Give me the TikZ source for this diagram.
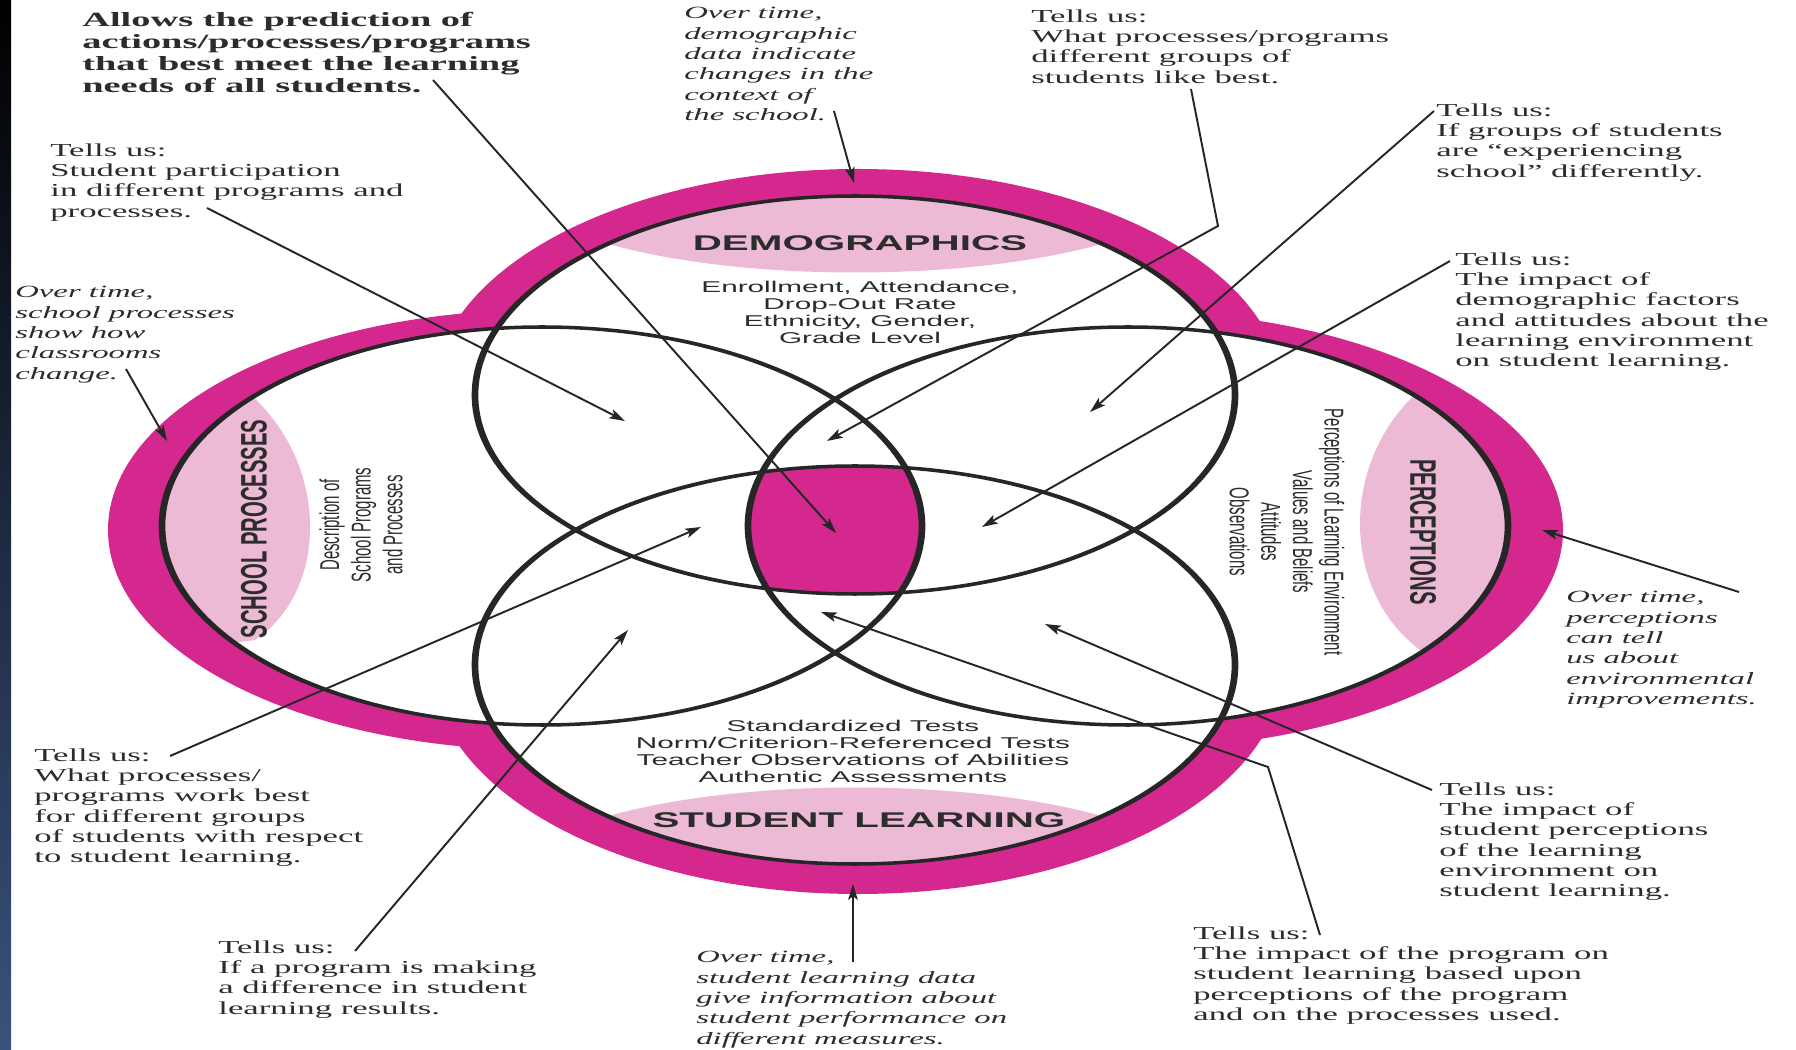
\documentclass[tikz,border=0pt]{standalone}
\usepackage{fontspec}
\usetikzlibrary{arrows.meta}
\newfontfamily\notefont{Liberation Serif}[FakeStretch=1.9]
\newfontfamily\infofont{Liberation Sans}[FakeStretch=1.9]
\newfontfamily\narrowfont{Liberation Sans}[FakeStretch=0.55]

\begin{document}
\begin{tikzpicture}[x=0.02cm, y=-0.02cm,
    tell/.style={anchor=north west, inner sep=0pt, align=left, text=my-ink,
      font=\notefont\fontsize{10.4}{11.6}\selectfont},
    overtime/.style={tell, font=\notefont\itshape\fontsize{9.8}{11.6}\selectfont},
    heading/.style={tell, font=\notefont\bfseries\fontsize{11.5}{12.6}\selectfont},
    info/.style={anchor=north, inner sep=0pt, align=center, text=my-ink,
      font=\infofont\fontsize{8.9}{9.6}\selectfont},
    title/.style={inner sep=0pt, text=my-ink, font=\infofont\bfseries\fontsize{12.1}{14}\selectfont},
    sidetitle/.style={inner sep=0pt, text=my-ink, font=\narrowfont\bfseries\fontsize{21}{24}\selectfont},
    sideinfo/.style={inner sep=0pt, align=center, text=my-ink, font=\narrowfont\fontsize{15.5}{18}\selectfont},
    ring/.style={line width=2pt, draw=my-line},
    pointer/.style={-{Stealth[length=9pt,width=5.5pt,inset=2pt]}, line width=1.1pt, draw=my-line},
    link/.style={line width=1.1pt, draw=my-line}]
    \definecolor{my-magenta}{RGB}{212,40,142}
    \definecolor{my-pink}{RGB}{237,186,214}
    \definecolor{my-line}{RGB}{38,38,38}
    \definecolor{my-ink}{RGB}{44,44,44}
    \definecolor{my-navy}{RGB}{58,82,125}
    \def\rx{380}
    \def\ry{199}
    \useasboundingbox (0,0) rectangle (1796,1050);
    \fill[white] (0,0) rectangle (1796,1050);
    \shade[top color=black, bottom color=my-navy] (0,0) rectangle (11,1050);
    \coordinate (demo)   at (855,395);
    \coordinate (learn)  at (855,665);
    \coordinate (school) at (542,526);
    \coordinate (percep) at (1128,526);
    % outer band and white lobes
    \foreach \cx/\cy/\ox/\oy in {858/395/425/226, 858/665/426/229, 540/530/432/220, 1130/530/433/219}
      \fill[my-magenta] (\cx,\cy) ellipse [x radius=\ox, y radius=\oy];
    \foreach \c in {demo,learn,school,percep}
      \fill[white] (\c) ellipse [x radius=\rx, y radius=\ry];
    \begin{scope}
      \clip (demo) ellipse [x radius=\rx, y radius=\ry];
      \fill[my-pink] (560,150) -- (580,235) .. controls (720,285) and (990,285) .. (1130,235) -- (1150,150) -- cycle;
    \end{scope}
    \begin{scope}
      \clip (learn) ellipse [x radius=\rx, y radius=\ry];
      \fill[my-pink] (560,900) -- (580,825) .. controls (720,775) and (990,775) .. (1130,825) -- (1150,900) -- cycle;
    \end{scope}
    \begin{scope}
      \clip (school) ellipse [x radius=\rx, y radius=\ry];
      \fill[my-pink] (100,380) -- (245,390) .. controls (330,460) and (330,590) .. (255,640) -- (100,660) -- cycle;
    \end{scope}
    \begin{scope}
      \clip (percep) ellipse [x radius=\rx, y radius=\ry];
      \fill[my-pink] (1600,380) -- (1420,390) .. controls (1340,460) and (1340,590) .. (1420,650) -- (1600,660) -- cycle;
    \end{scope}
    \begin{scope}
      \clip (demo) ellipse [x radius=\rx, y radius=\ry];
      \clip (learn) ellipse [x radius=\rx, y radius=\ry];
      \clip (school) ellipse [x radius=\rx, y radius=\ry];
      \fill[my-magenta] (percep) ellipse [x radius=\rx, y radius=\ry];
    \end{scope}
    \begin{scope}[transform canvas={xscale=1.9}]
      \foreach \cx/\cy in {450/395, 450/665, 285.26/526, 593.68/526}
        \draw[ring] (\cx,\cy) ellipse [x radius=200, y radius=\ry];
    \end{scope}
    % inner texts
    \node[title] (demoTitle) at (860,243) {DEMOGRAPHICS};
    \node[info] (demoInfo) at (860,281) {Enrollment, Attendance,\\Drop-Out Rate\\Ethnicity, Gender,\\Grade Level};
    \node[title] (learnTitle) at (859,820) {STUDENT LEARNING};
    \node[info] (learnInfo) at (853,720) {Standardized Tests\\Norm/Criterion-Referenced Tests\\Teacher Observations of Abilities\\Authentic Assessments};
    \node[sidetitle, rotate=90] (schoolTitle) at (254,529) {SCHOOL PROCESSES};
    \node[sideinfo, rotate=90] (schoolInfo) at (361,525) {Description of\\School Programs\\and Processes};
    \node[sidetitle, rotate=-90] (percepTitle) at (1423,532) {PERCEPTIONS};
    \node[sideinfo, rotate=-90] (percepInfo) at (1287,532) {Perceptions of Learning Environment\\Values and Beliefs\\Attitudes\\Observations};
    % notes
    \node[heading] (predict) at (82,12) {Allows the prediction of\\actions/processes/programs\\that best meet the learning\\needs of all students.};
    \node[tell] (partic) at (50,143) {Tells us:\\Student participation\\in different programs and\\processes.};
    \node[overtime] (classroom) at (15,286) {Over time,\\school processes\\show how\\classrooms\\change.};
    \node[overtime] (demoTime) at (684,7) {Over time,\\demographic\\data indicate\\changes in the\\context of\\the school.};
    \node[tell] (likeBest) at (1031,9) {Tells us:\\What processes/programs\\different groups of\\students like best.};
    \node[tell] (experience) at (1436,103) {Tells us:\\If groups of students\\are “experiencing\\school” differently.};
    \node[tell] (attitude) at (1455,252) {Tells us:\\The impact of\\demographic factors\\and attitudes about the\\learning environment\\on student learning.};
    \node[overtime] (percepTime) at (1566,591) {Over time,\\perceptions\\can tell\\us about\\environmental\\improvements.};
    \node[tell] (environ) at (1439,782) {Tells us:\\The impact of\\student perceptions\\of the learning\\environment on\\student learning.};
    \node[tell] (basedUpon) at (1193,926) {Tells us:\\The impact of the program on\\student learning based upon\\perceptions of the program\\and on the processes used.};
    \node[overtime] (learnTime) at (696,951) {Over time,\\student learning data\\give information about\\student performance on\\different measures.};
    \node[tell] (difference) at (218,940) {Tells us:\\If a program is making\\a difference in student\\learning results.};
    \node[tell] (workBest) at (34,748) {Tells us:\\What processes/\\programs work best\\for different groups\\of students with respect\\to student learning.};
    % connectors
    \coordinate (predict-out) at (433,80);       \coordinate (predict-tip) at (836,533);
    \coordinate (partic-out) at (207,208);       \coordinate (partic-tip) at (625,421);
    \coordinate (classroom-out) at (126,369);    \coordinate (classroom-tip) at (167,441);
    \coordinate (demoTime-out) at (834,111);     \coordinate (demoTime-tip) at (854,183);
    \coordinate (likeBest-out) at (1191,89);     \coordinate (likeBest-bend) at (1218,226);
    \coordinate (likeBest-tip) at (827,441);
    \coordinate (experience-out) at (1434,111);  \coordinate (experience-tip) at (1090,412);
    \coordinate (attitude-out) at (1450,261);    \coordinate (attitude-tip) at (982,527);
    \coordinate (percepTime-out) at (1739,592);  \coordinate (percepTime-tip) at (1542,530);
    \coordinate (environ-out) at (1432,790);     \coordinate (environ-tip) at (1045,624);
    \coordinate (basedUpon-out) at (1320,935);   \coordinate (basedUpon-bend) at (1268,767);
    \coordinate (basedUpon-tip) at (821,612);
    \coordinate (learnTime-out) at (853,962);    \coordinate (learnTime-tip) at (853,884);
    \coordinate (difference-out) at (355,951);   \coordinate (difference-tip) at (628,630);
    \coordinate (workBest-out) at (170,756);     \coordinate (workBest-tip) at (701,527);
    \foreach \n in {predict,partic,classroom,demoTime,experience,attitude,percepTime,environ,learnTime,difference,workBest}
      \draw[pointer] (\n-out) -- (\n-tip);
    \draw[pointer] (likeBest-out) -- (likeBest-bend) -- (likeBest-tip);
    \draw[pointer] (basedUpon-out) -- (basedUpon-bend) -- (basedUpon-tip);
\end{tikzpicture}
\end{document}
